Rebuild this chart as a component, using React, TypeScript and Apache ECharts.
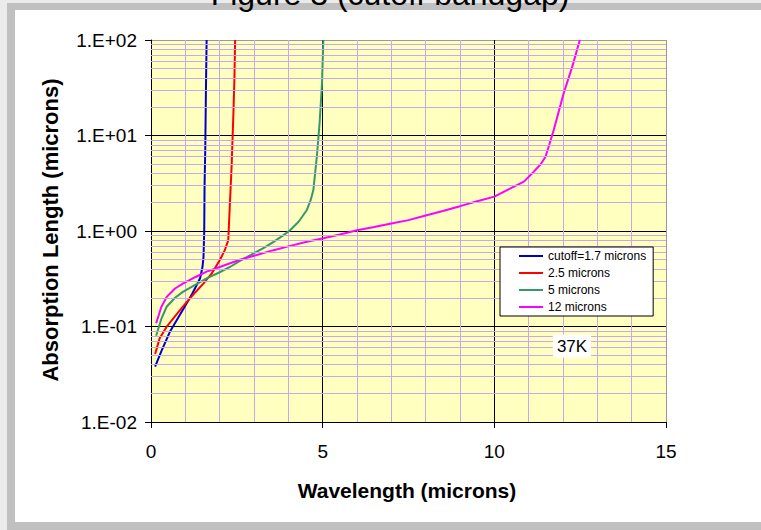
import React, { useEffect, useRef } from "react";
import * as echarts from "echarts";

const legendNames = ["cutoff=1.7 microns", "2.5 microns", "5 microns", "12 microns"];
const seriesColors = ["#0000cc", "#ff0000", "#339966", "#ff00ff"];

const blueX = [0.12, 0.3, 0.55, 0.8, 1.04, 1.2, 1.35, 1.43, 1.5, 1.53, 1.55, 1.56, 1.58, 1.6, 1.62];
const blueY = [0.038, 0.055, 0.088, 0.125, 0.175, 0.22, 0.28, 0.32, 0.42, 0.54, 1.0, 3.0, 7.0, 30, 100];

const redX = [0.12, 0.25, 0.46, 0.75, 1.04, 1.3, 1.53, 1.77, 2.01, 2.15, 2.25, 2.3, 2.35, 2.4, 2.43, 2.45];
const redY = [0.0515, 0.075, 0.1, 0.135, 0.18, 0.23, 0.283, 0.36, 0.5, 0.63, 0.8, 2.0, 5.0, 17, 40, 100];

const greenX = [0.15, 0.3, 0.46, 0.7, 0.94, 1.3, 1.62, 2.0, 2.3, 2.6, 2.98, 3.3, 3.57, 3.85, 4.05, 4.3, 4.54, 4.65, 4.73, 4.83, 4.91, 4.98, 5.02];
const greenY = [0.08, 0.12, 0.162, 0.2, 0.232, 0.275, 0.319, 0.37, 0.42, 0.49, 0.58, 0.67, 0.77, 0.9, 1.02, 1.25, 1.66, 2.1, 2.7, 6.0, 13.4, 35, 100];

const magentaX = [0.15, 0.3, 0.46, 0.7, 0.94, 1.3, 1.62, 2.0, 2.59, 3.0, 3.57, 4.0, 4.54, 5.02, 5.5, 6.0, 6.5, 7.0, 7.5, 8.0, 8.5, 9.0, 9.5, 10.0, 10.47, 10.86, 11.15, 11.35, 11.49, 11.6, 11.73, 12.02, 12.27, 12.49];
const magentaY = [0.108, 0.16, 0.205, 0.25, 0.283, 0.33, 0.375, 0.42, 0.5, 0.55, 0.63, 0.69, 0.77, 0.84, 0.92, 1.02, 1.1, 1.2, 1.3, 1.45, 1.62, 1.82, 2.05, 2.29, 2.8, 3.29, 4.18, 5.0, 6.0, 8.0, 11.4, 27.7, 52.6, 100];

const seriesX = [blueX, redX, greenX, magentaX];
const seriesY = [blueY, redY, greenY, magentaY];

const decades = [0.01, 0.1, 1, 10];
const minorMultipliers = [2, 3, 4, 5, 6, 7, 8, 9];

const xTicks = [0, 5, 10, 15];
const titleText = "Figure 3 (cutoff bandgap)";
const xTitle = "Wavelength (microns)";
const yTitle = "Absorption Length (microns)";
const tempLabel = "37K";

const FONT = "Arial, 'Liberation Sans', sans-serif";
const LAV = "#c9a8ea";

export default function App() {
  const ref = useRef<HTMLDivElement>(null);

  useEffect(() => {
    if (!ref.current) return;
    const chart = echarts.init(ref.current, null, { renderer: "svg" });

    const minorY: number[] = [];
    decades.forEach((d) => minorMultipliers.forEach((m) => minorY.push(Number((m * d).toPrecision(3)))));

    const curves = seriesX.map((xs, i) => ({
      name: legendNames[i],
      type: "line",
      data: xs.map((x, j) => [x, seriesY[i][j]]),
      symbol: "none",
      showSymbol: false,
      smooth: false,
      z: 3,
      lineStyle: { color: seriesColors[i], width: 2 },
      itemStyle: { color: seriesColors[i] },
    }));

    const option: any = {
      animation: false,
      backgroundColor: "transparent",
      grid: {
        left: 151,
        top: 40,
        right: 95,
        bottom: 108,
        show: true,
        backgroundColor: "#ffffc0",
        borderWidth: 0,
      },
      legend: {
        data: legendNames.map((n) => ({ name: n, icon: "rect" })),
        orient: "vertical",
        left: 500,
        top: 247,
        z: 20,
        backgroundColor: "#ffffff",
        borderColor: "#000000",
        borderWidth: 1,
        borderRadius: 0,
        padding: [3, 7, 3, 19],
        itemWidth: 24,
        itemHeight: 2,
        itemGap: 5,
        textStyle: { fontSize: 12, color: "#000", fontFamily: FONT, lineHeight: 12 },
      },
      xAxis: {
        type: "value",
        min: xTicks[0],
        max: xTicks[xTicks.length - 1],
        interval: 5,
        axisLine: { show: true, lineStyle: { color: "#000", width: 1 } },
        axisTick: { show: true, length: 6, lineStyle: { color: "#000" } },
        axisLabel: { fontSize: 19, color: "#000", fontFamily: FONT, margin: 20 },
        splitLine: { show: true, lineStyle: { color: ["#000", "#000", "#000", "#999"], width: 1 } },
        minorTick: { show: false, splitNumber: 5 },
        minorSplitLine: { show: true, lineStyle: { color: LAV, width: 1 } },
      },
      yAxis: {
        type: "log",
        logBase: 10,
        min: 0.01,
        max: 100,
        axisLine: { show: true, lineStyle: { color: "#000", width: 1 } },
        axisTick: { show: true, length: 6, lineStyle: { color: "#000" } },
        axisLabel: {
          fontSize: 19,
          color: "#000",
          fontFamily: FONT,
          margin: 14,
          formatter: (v: number) => {
            const e = Math.round(Math.log10(v));
            return "1.E" + (e < 0 ? "-" : "+") + String(Math.abs(e)).padStart(2, "0");
          },
        },
        splitLine: { show: true, lineStyle: { color: ["#000", "#000", "#000", "#000", "#999"], width: 1 } },
      },
      series: [
        {
          type: "line",
          data: [],
          silent: true,
          z: 1,
          symbol: "none",
          markLine: {
            silent: true,
            symbol: ["none", "none"],
            label: { show: false },
            lineStyle: { color: LAV, width: 1, type: "solid" },
            data: minorY.map((v) => ({ yAxis: v })),
          },
        },
        ...curves,
      ],
      graphic: [
        {
          type: "text",
          x: 390,
          y: -6,
          z: 100,
          style: {
            text: titleText,
            font: "normal 32px " + FONT,
            fill: "#000",
            align: "center",
            verticalAlign: "middle",
          },
        },
        {
          type: "text",
          x: 407,
          y: 490,
          style: {
            text: xTitle,
            font: "bold 21px " + FONT,
            fill: "#000",
            align: "center",
            verticalAlign: "middle",
          },
        },
        {
          type: "text",
          x: 50,
          y: 230,
          rotation: Math.PI / 2,
          style: {
            text: yTitle,
            font: "bold 22px " + FONT,
            fill: "#000",
            align: "center",
            verticalAlign: "middle",
          },
        },
        {
          type: "text",
          x: 572,
          y: 346,
          z: 100,
          style: {
            text: tempLabel,
            font: "normal 17px " + FONT,
            fill: "#000",
            align: "center",
            verticalAlign: "middle",
            backgroundColor: "#ffffff",
            padding: [3, 4, 3, 4],
          },
        },
      ],
    };

    chart.setOption(option);
    return () => chart.dispose();
  }, []);

  return (
    <div style={{ position: "absolute", left: 0, top: 0, width: 761, height: 530, background: "#ebebeb", overflow: "hidden" }}>
      <div style={{ position: "absolute", left: 7, top: 3, right: 0, bottom: 0, background: "#c0c0c0" }} />
      <div style={{ position: "absolute", left: 15, top: 10, width: 746, height: 512, background: "#ffffff" }} />
      <div ref={ref} style={{ position: "absolute", left: 0, top: 0, width: 761, height: 530 }} />
    </div>
  );
}
